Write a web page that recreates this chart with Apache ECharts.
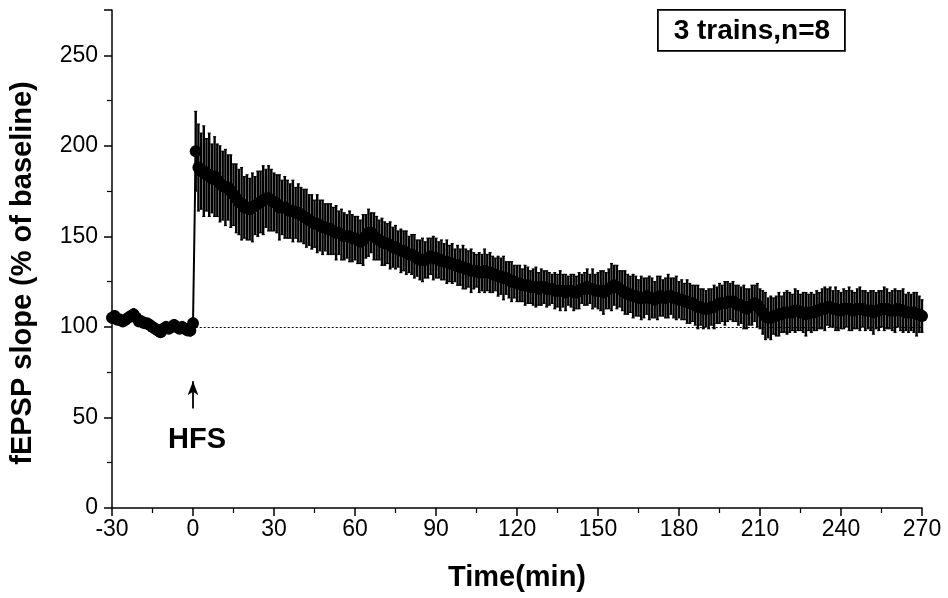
<!DOCTYPE html>
<html>
<head>
<meta charset="utf-8">
<script src="https://cdn.jsdelivr.net/npm/echarts@6/dist/echarts.min.js"></script>
<style>
  html, body { margin: 0; padding: 0; background: #fff; }
  #chart { width: 948px; height: 598px; }
</style>
</head>
<body>
<div id="chart"></div>
<script>
// fEPSP slope time course, 1 sample per minute
const baselineStart = -30;   // first baseline minute
const postStart = 1;         // first minute after HFS

// baseline (-30 .. 0 min), % of baseline
const baselineMean = [105, 106, 104, 104, 103, 104, 105, 106, 107, 105,
                      103, 103, 102, 102, 101, 100, 99, 98, 97, 99,
                      100, 99, 100, 101, 100, 99, 100, 99, 98, 98, 102];
const baselineSem = [3, 3, 2, 3, 2, 3, 3, 2, 3, 2,
                     2, 3, 2, 2, 3, 2, 2, 3, 2, 2,
                     3, 2, 2, 3, 2, 2, 3, 2, 2, 3, 3];

// after HFS (1 .. 270 min)
const postMean = [
  197, 188, 186, 186, 184, 184, 182, 183, 181, 179,
  178, 177, 177, 175, 173, 171, 169, 168, 166, 166,
  165, 166, 167, 168, 169, 170, 171, 171, 170, 169,
  168, 166, 166, 166, 165, 164, 164, 163, 163, 162,
  161, 160, 159, 158, 157, 157, 156, 155, 155, 154,
  154, 153, 152, 152, 151, 150, 150, 150, 149, 149,
  148, 147, 148, 150, 152, 152, 150, 149, 148, 147,
  146, 146, 145, 144, 144, 143, 142, 142, 141, 140,
  140, 139, 138, 137, 137, 137, 138, 139, 138, 138,
  137, 137, 136, 136, 135, 135, 134, 134, 133, 133,
  132, 132, 131, 131, 131, 130, 130, 131, 130, 130,
  129, 129, 128, 128, 127, 127, 126, 125, 125, 124,
  124, 123, 123, 123, 122, 122, 122, 121, 122, 122,
  121, 121, 121, 120, 120, 120, 120, 119, 120, 120,
  119, 119, 120, 121, 121, 122, 121, 121, 120, 120,
  120, 119, 120, 121, 122, 123, 122, 121, 120, 119,
  118, 118, 117, 117, 116, 116, 116, 117, 116, 116,
  115, 116, 117, 116, 116, 117, 117, 116, 116, 115,
  115, 114, 114, 113, 113, 112, 111, 111, 110, 110,
  110, 111, 111, 112, 113, 113, 113, 114, 114, 114,
  113, 112, 112, 111, 110, 111, 112, 113, 112, 110,
  108, 106, 105, 105, 106, 106, 107, 107, 108, 108,
  108, 108, 109, 109, 108, 108, 107, 108, 108, 108,
  109, 109, 110, 110, 111, 111, 110, 110, 109, 109,
  110, 110, 110, 109, 109, 110, 110, 110, 109, 109,
  109, 108, 109, 109, 110, 110, 110, 109, 109, 109,
  110, 109, 109, 108, 108, 108, 108, 107, 107, 106
];
const postSem = [
  22, 24, 21, 25, 20, 23, 19, 22, 20, 21,
  19, 21, 18, 20, 17, 19, 18, 20, 17, 18,
  17, 19, 16, 18, 17, 19, 16, 18, 17, 16,
  16, 18, 15, 17, 16, 15, 17, 14, 16, 15,
  15, 16, 14, 15, 13, 16, 14, 15, 13, 14,
  14, 13, 15, 12, 14, 13, 12, 14, 13, 12,
  13, 12, 14, 12, 13, 11, 13, 12, 11, 13,
  12, 11, 13, 11, 12, 10, 12, 11, 12, 10,
  11, 12, 10, 11, 12, 10, 11, 10, 12, 11,
  10, 11, 10, 12, 10, 11, 9, 11, 10, 12,
  11, 10, 12, 10, 9, 11, 10, 12, 10, 11,
  10, 9, 11, 10, 12, 9, 10, 11, 9, 10,
  10, 9, 11, 10, 9, 10, 11, 9, 10, 9,
  10, 9, 8, 10, 9, 11, 9, 10, 8, 9,
  10, 9, 10, 8, 9, 10, 8, 11, 9, 10,
  11, 12, 10, 11, 13, 11, 12, 10, 11, 12,
  11, 10, 12, 11, 10, 12, 11, 10, 12, 11,
  10, 12, 11, 10, 11, 12, 10, 11, 12, 10,
  11, 10, 12, 11, 10, 11, 12, 10, 11, 10,
  11, 10, 12, 10, 11, 10, 12, 11, 10, 11,
  10, 11, 10, 12, 11, 10, 11, 10, 12, 11,
  12, 13, 11, 12, 10, 11, 12, 10, 11, 12,
  11, 10, 12, 11, 10, 11, 12, 10, 11, 10,
  11, 10, 11, 12, 10, 11, 10, 12, 11, 10,
  11, 10, 12, 11, 10, 11, 12, 10, 11, 10,
  11, 12, 10, 11, 10, 12, 11, 10, 11, 12,
  10, 11, 12, 10, 11, 10, 11, 12, 10, 9
];

// axis ticks
const xMin = -30, xMax = 270, xStep = 30;
const yMin = 0, yMax = 275, yStep = 50;
const referenceLevel = 100;

// annotation texts
const stimulusLabel = 'HFS';
const boxLabel = '3 trains,n=8';
const xTitle = 'Time(min)';
const yTitle = 'fEPSP slope (% of baseline)';

// assemble [time, mean] and [time, low, high]
const points = [];
const errors = [];
baselineMean.forEach((m, i) => {
  const t = baselineStart + i;
  points.push([t, m]);
  errors.push([t, m - baselineSem[i], m + baselineSem[i]]);
});
postMean.forEach((m, i) => {
  const t = postStart + i;
  points.push([t, m]);
  errors.push([t, m - postSem[i], m + postSem[i]]);
});

const FONT = '"Liberation Sans", Arial, sans-serif';
const chart = echarts.init(document.getElementById('chart'), null, { renderer: 'canvas' });

function renderErrorBar(params, api) {
  const t = api.value(0);
  const top = api.coord([t, api.value(2)]);
  const bottom = api.coord([t, api.value(1)]);
  const cap = 1.5;
  const style = { stroke: '#000', lineWidth: 2.4 };
  return {
    type: 'group',
    children: [
      { type: 'line', shape: { x1: top[0], y1: top[1], x2: bottom[0], y2: bottom[1] }, style },
      { type: 'line', shape: { x1: top[0] - cap, y1: top[1], x2: top[0] + cap, y2: top[1] }, style: { stroke: '#000', lineWidth: 1.2 } },
      { type: 'line', shape: { x1: bottom[0] - cap, y1: bottom[1], x2: bottom[0] + cap, y2: bottom[1] }, style: { stroke: '#000', lineWidth: 1.2 } }
    ]
  };
}

const axisCommon = {
  axisLine: { show: true, onZero: false, lineStyle: { color: '#000', width: 1.5 } },
  axisTick: { show: true, inside: false, length: 8, lineStyle: { color: '#000', width: 1.5 } },
  minorTick: { show: true, splitNumber: 2, length: 5, lineStyle: { color: '#000', width: 1.2 } },
  splitLine: { show: false },
  nameTextStyle: { fontFamily: FONT, fontSize: 29, fontWeight: 'bold', color: '#000' }
};

chart.setOption({
  animation: false,
  backgroundColor: '#fff',
  grid: { left: 112, right: 26, top: 10, bottom: 90 },
  xAxis: Object.assign({
    type: 'value',
    min: xMin, max: xMax, interval: xStep,
    name: xTitle, nameLocation: 'middle', nameGap: 55,
    axisLabel: { fontFamily: FONT, fontSize: 23, color: '#000', margin: 10 }
  }, axisCommon),
  yAxis: Object.assign({
    type: 'value',
    min: yMin, max: yMax, interval: yStep,
    axisLabel: { fontFamily: FONT, fontSize: 23, color: '#000', margin: 14, showMaxLabel: false }
  }, axisCommon),
  series: [
    {
      type: 'custom',
      name: 'sem',
      data: errors,
      renderItem: renderErrorBar,
      encode: { x: 0, y: [1, 2] },
      silent: true,
      z: 2
    },
    {
      type: 'line',
      name: 'mean',
      data: points,
      symbol: 'circle',
      symbolSize: 12,
      itemStyle: { color: '#000' },
      lineStyle: { color: '#000', width: 2 },
      silent: true,
      z: 3,
      markLine: {
        silent: true,
        animation: false,
        label: { show: false },
        data: [
          [
            { coord: [postStart, referenceLevel], symbol: 'none' },
            { coord: [xMax, referenceLevel], symbol: 'none' }
          ],
          [
            { coord: [0, 55], symbol: 'none' },
            { coord: [0, 70], symbol: 'arrow', symbolSize: [8, 14],
              lineStyle: { type: 'solid', width: 1.8, color: '#000' } }
          ]
        ],
        lineStyle: { type: [2, 2], width: 1.2, color: '#000' }
      }
    }
  ]
});

// HFS label, rotated y title and the boxed group label
const hfsPos = chart.convertToPixel({ gridIndex: 0 }, [1.5, 37.5]);
chart.setOption({
  graphic: [
    {
      type: 'text',
      x: hfsPos[0], y: hfsPos[1],
      style: { text: stimulusLabel, font: 'bold 29px ' + FONT, fill: '#000', align: 'center', verticalAlign: 'middle' },
      silent: true
    },
    {
      type: 'text',
      x: 23, y: 273,
      rotation: Math.PI / 2,
      style: { text: yTitle, font: 'bold 29px ' + FONT, fill: '#000', align: 'center', verticalAlign: 'middle' },
      silent: true
    },
    {
      type: 'group',
      left: 657, top: 9,
      children: [
        { type: 'rect', shape: { x: 0, y: 0, width: 187, height: 41 },
          style: { fill: '#fff', stroke: '#000', lineWidth: 1.8 } },
        { type: 'text', x: 94, y: 21,
          style: { text: boxLabel, font: 'bold 28px ' + FONT, fill: '#000', align: 'center', verticalAlign: 'middle' } }
      ],
      silent: true
    }
  ]
});
</script>
</body>
</html>
